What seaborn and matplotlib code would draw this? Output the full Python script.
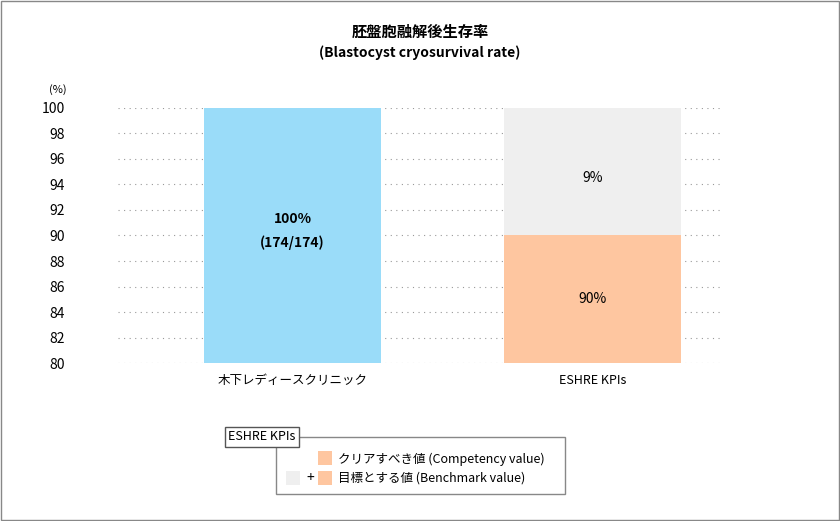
import matplotlib
matplotlib.use("Agg")
import matplotlib.pyplot as plt
import seaborn as sns
import pandas as pd
from matplotlib.patches import Rectangle

plt.rcParams["font.family"] = "Noto Sans CJK JP"

categories = ["木下レディースクリニック", "ESHRE KPIs"]
base_values = [100, 90]
extra_values = [0, 10]
base_labels = ["100%\n(174/174)", "90%"]
extra_labels = ["", "9%"]
base_colors = ["#9adcf9", "#fec6a0"]
extra_color = "#efefef"
yticks = list(range(80, 101, 2))

fig = plt.figure(figsize=(8.4, 5.21), dpi=100)
fig.patches.append(Rectangle((0.001, 0.001), 0.998, 0.997, transform=fig.transFigure,
                             fill=False, edgecolor="#888888", lw=1))
ax = fig.add_axes([0.140, 0.303, 0.717, 0.490])
df = pd.DataFrame({"cat": categories, "val": base_values})
sns.barplot(data=df, x="cat", y="val", hue="cat", palette=base_colors, width=0.59,
            saturation=1, ax=ax, legend=False, zorder=2)
ax.bar(range(len(categories)), extra_values, bottom=base_values, width=0.59,
       color=extra_color, zorder=2)
ax.set_ylim(80, 100)
ax.set_xlim(-0.583, 1.423)
ax.set_yticks(yticks)
ax.tick_params(axis="y", length=0, labelsize=10, pad=38)
ax.tick_params(axis="x", length=0, labelsize=9, pad=8)
for lbl in ax.get_yticklabels():
    lbl.set_horizontalalignment("right")
ax.yaxis.grid(True, linestyle=(0, (1, 4)), color="#999999", lw=0.8, zorder=0)
for s in ax.spines.values():
    s.set_visible(False)
ax.set_xlabel("")
ax.set_ylabel("")
ax.text(0, 91.3, "100%", ha="center", va="center", fontsize=10, fontweight="bold")
ax.text(0, 89.4, "(174/174)", ha="center", va="center", fontsize=10, fontweight="bold")
ax.text(1, 85, base_labels[1], ha="center", va="center", fontsize=10)
ax.text(1, 94.5, extra_labels[1], ha="center", va="center", fontsize=10)
ax.text(-0.583 - 0.2, 101.4, "(%)", ha="center", va="center", fontsize=8)

fig.text(0.5, 0.938, "胚盤胞融解後生存率", ha="center", va="center", fontsize=11, fontweight="bold")
fig.text(0.5, 0.898, "(Blastocyst cryosurvival rate)", ha="center", va="center", fontsize=10, fontweight="bold")

# legend box
fig.patches.append(Rectangle((276/840, 1-494/521), (565-276)/840, (494-437)/521,
                             transform=fig.transFigure, fill=True, facecolor="white",
                             edgecolor="#888888", lw=1))
fig.text(228/840, 1-437/521, "ESHRE KPIs", ha="left", va="center", fontsize=9,
         bbox=dict(boxstyle="square,pad=0.25", facecolor="white", edgecolor="#555555"))
sq = 14
for (x, y, c) in [(318, 451, "#fec6a0"), (318, 471, "#fec6a0"), (286, 471, "#efefef")]:
    fig.patches.append(Rectangle((x/840, 1-(y+sq)/521), sq/840, sq/521,
                                 transform=fig.transFigure, facecolor=c, edgecolor="none"))
fig.text(310/840, 1-478/521, "+", ha="center", va="center", fontsize=10)
fig.text(338/840, 1-459/521, "クリアすべき値 (Competency value)", ha="left", va="center", fontsize=9)
fig.text(338/840, 1-478/521, "目標とする値 (Benchmark value)", ha="left", va="center", fontsize=9)

fig.savefig("out.png", dpi=100)
